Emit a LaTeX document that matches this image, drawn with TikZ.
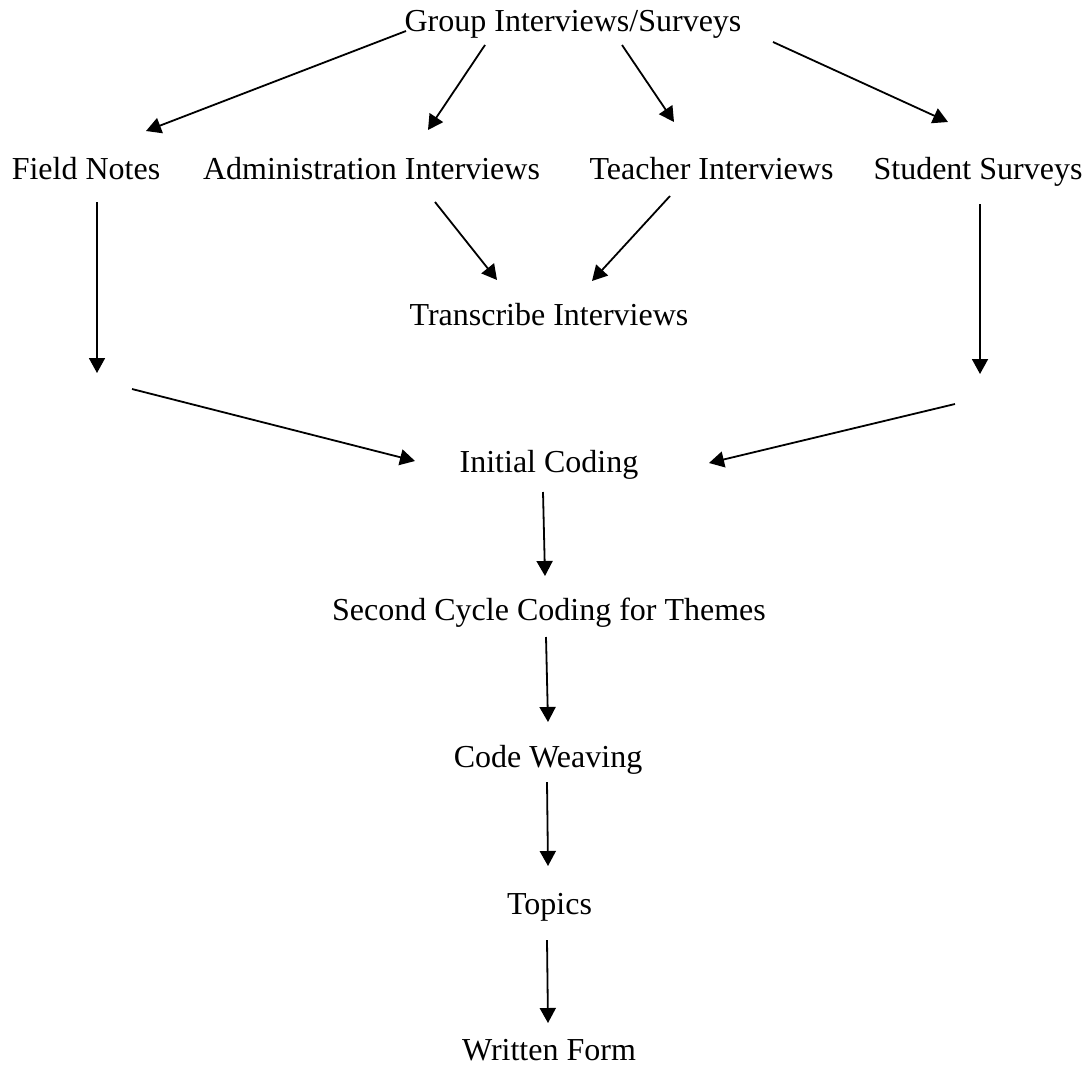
\documentclass[tikz,border=0pt]{standalone}
\usepackage{fontspec}
\setmainfont{Liberation Serif}
\usetikzlibrary{arrows.meta}
\begin{document}
\begin{tikzpicture}[x=1pt,y=-1pt,
  lbl/.style={anchor=base,inner sep=0pt,font=\fontsize{32}{38}\selectfont},
  arr/.style={line width=1.8pt,-{Triangle[length=15pt,width=16pt]}}]
\useasboundingbox (0,0) rectangle (1091,1065);
\node[lbl] (grp) at (573,32) {Group Interviews/Surveys};
\node[lbl] (fn) at (86,179) {Field Notes};
\node[lbl] (adm) at (371.5,179) {Administration Interviews};
\node[lbl] (tea) at (711.5,179) {Teacher Interviews};
\node[lbl] (stu) at (978,179) {Student Surveys};
\node[lbl] (tra) at (549,325) {Transcribe Interviews};
\node[lbl] (ini) at (549,472) {Initial Coding};
\node[lbl] (sec) at (549,620) {Second Cycle Coding for Themes};
\node[lbl] (cw) at (548,767) {Code Weaving};
\node[lbl] (top) at (549.5,914) {Topics};
\node[lbl] (wf) at (549,1060) {Written Form};
% free ends
\coordinate (fnend) at (97,373);
\coordinate (fnjoin) at (132,389);
\coordinate (stuend) at (980,374);
\coordinate (stujoin) at (955,404);
% connectors
\draw[arr] (406,31) coordinate (g1) -- (146,131) coordinate (f1);
\draw[arr] (485,45) coordinate (g2) -- (428,130) coordinate (a1);
\draw[arr] (622,45) coordinate (g3) -- (674,122) coordinate (t1);
\draw[arr] (773,42) coordinate (g4) -- (948,122) coordinate (s1);
\draw[arr] (97,202) coordinate (f2) -- (fnend);
\draw[arr] (980,204) coordinate (s2) -- (stuend);
\draw[arr] (fnjoin) -- (415,461) coordinate (i1);
\draw[arr] (stujoin) -- (709,463) coordinate (i2);
\draw[arr] (435,202) coordinate (a2) -- (497,280) coordinate (r1);
\draw[arr] (670,196) coordinate (t2) -- (592,281) coordinate (r2);
\draw[arr] (543,492) coordinate (i3) -- (545,576) coordinate (c1);
\draw[arr] (546,637) coordinate (c2) -- (548,722) coordinate (w1);
\draw[arr] (547,782) coordinate (w2) -- (548,866) coordinate (p1);
\draw[arr] (547,940) coordinate (p2) -- (548,1023) coordinate (q1);
\end{tikzpicture}
\end{document}
